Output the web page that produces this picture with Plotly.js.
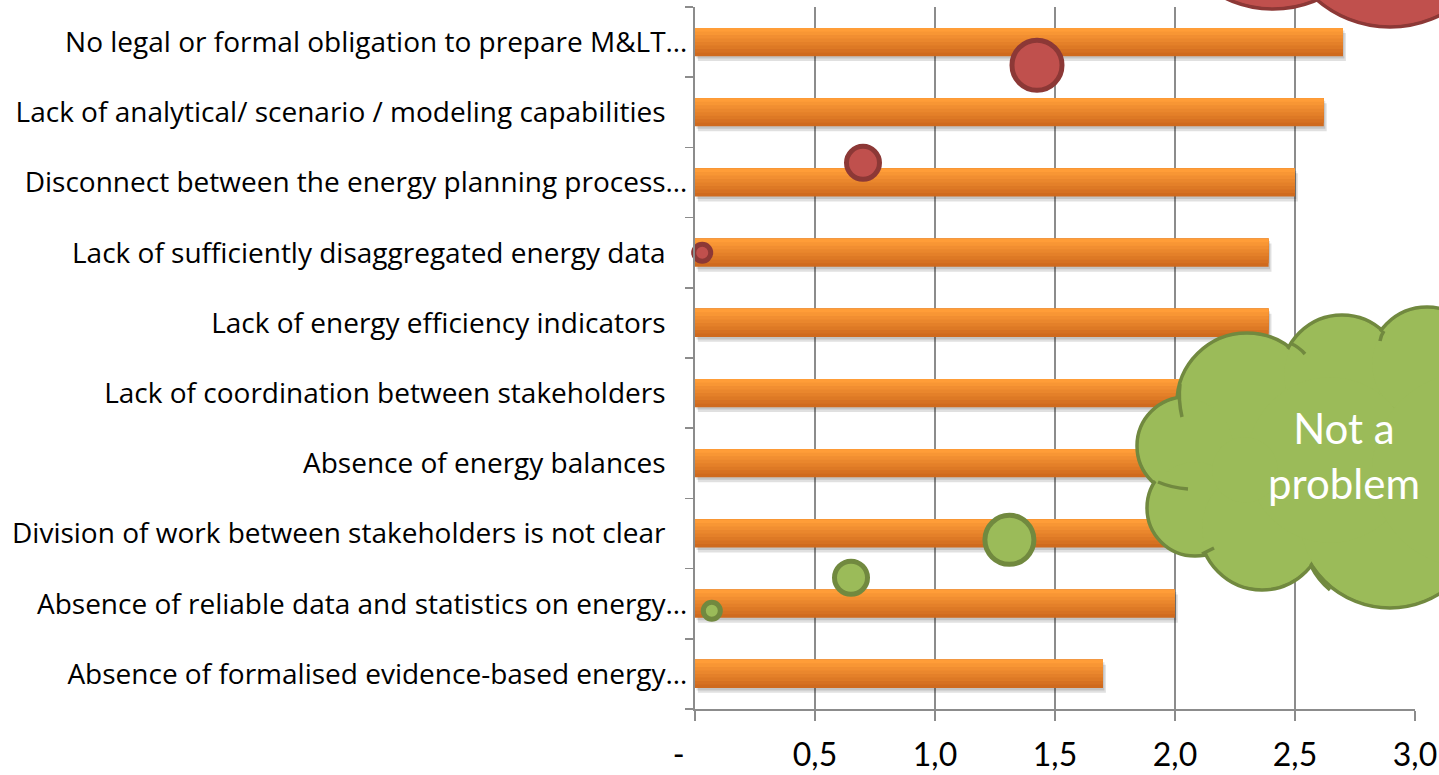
<!DOCTYPE html>
<html>
<head>
<meta charset="utf-8">
<script src="https://cdn.plot.ly/plotly-3.0.1.min.js"></script>
<style>
  html, body { margin: 0; padding: 0; background: #ffffff; }
  #chart { width: 1439px; height: 775px; }
</style>
</head>
<body>
<div id="chart"></div>
<script>
// ---------- data ----------
const categories = [
  "No legal or formal obligation to prepare M&LT…",
  "Lack of analytical/ scenario / modeling capabilities",
  "Disconnect between the energy planning process…",
  "Lack of sufficiently disaggregated energy data",
  "Lack of energy efficiency indicators",
  "Lack of coordination between stakeholders",
  "Absence of energy balances",
  "Division of work between stakeholders is not clear",
  "Absence of reliable data and statistics on energy…",
  "Absence of formalised evidence-based energy…"
];
const scores = [2.70, 2.62, 2.50, 2.39, 2.39, 2.30, 2.21, 2.10, 2.00, 1.70];

const xTickValues = [0, 0.5, 1.0, 1.5, 2.0, 2.5, 3.0];
const xTickLabels = ["-\u00a0\u00a0\u00a0\u00a0", "0,5", "1,0", "1,5", "2,0", "2,5", "3,0"];

// decorative bubbles (x on value axis, y in category-index units, 0 = top row)
const redBubbleX = [1.425, 0.70, 0.03];
const redBubbleY = [0.33, 1.72, 3.00];
const redBubbleSize = [50, 33, 17];
const greenBubbleX = [1.31, 0.65, 0.07];
const greenBubbleY = [7.09, 7.63, 8.10];
const greenBubbleSize = [49, 33, 17];

const cloudText = "Not a<br>problem";

// ---------- layout geometry ----------
const PL = 695, PR = 1415, PT = 7, PB = 709;
const W = 1439, H = 775;
const px2x = p => (p - PL) / (PR - PL);
const py2y = p => (PB - p) / (PB - PT);

// ---------- bar traces (layered to imitate a vertical gradient) ----------
const barW = 0.4;
const topCol = [255, 157, 56];
const botCol = [207, 106, 30];
const N = 8;
const traces = [];

// soft shadow
traces.push({
  type: 'bar', orientation: 'h', y: categories, x: scores, base: 0.012,
  width: barW, offset: -barW / 2 + 0.07,
  marker: { color: 'rgba(0,0,0,0.12)', line: { width: 0 } },
  hoverinfo: 'skip', showlegend: false
});
traces.push({
  type: 'bar', orientation: 'h', y: categories, x: scores, base: 0.006,
  width: barW, offset: -barW / 2 + 0.035,
  marker: { color: 'rgba(0,0,0,0.12)', line: { width: 0 } },
  hoverinfo: 'skip', showlegend: false
});
for (let k = 0; k < N; k++) {
  const t = k / (N - 1);
  const c = botCol.map((b, i) => Math.round(b + (topCol[i] - b) * t));
  traces.push({
    type: 'bar', orientation: 'h', y: categories, x: scores,
    width: barW * (1 - k / N), offset: -barW / 2,
    marker: { color: 'rgb(' + c.join(',') + ')', line: { width: 0 } },
    hoverinfo: 'skip', showlegend: false
  });
}

// bubbles
traces.push({
  type: 'scatter', mode: 'markers', x: redBubbleX, y: redBubbleY, yaxis: 'y2',
  marker: { size: redBubbleSize, color: '#C0504D', opacity: 1, line: { color: '#8C3836', width: 5 } },
  cliponaxis: false, hoverinfo: 'skip', showlegend: false
});
traces.push({
  type: 'scatter', mode: 'markers', x: greenBubbleX, y: greenBubbleY, yaxis: 'y2',
  marker: { size: greenBubbleSize, color: '#9BBB59', opacity: 1, line: { color: '#71893F', width: 5 } },
  cliponaxis: false, hoverinfo: 'skip', showlegend: false
});

// ---------- decorative clouds (shapes) ----------
function circleShape(cx, cy, r, fill, lineCol, lw) {
  return {
    type: 'circle', xref: 'paper', yref: 'paper', layer: 'above',
    x0: px2x(cx - r), x1: px2x(cx + r), y0: py2y(cy + r), y1: py2y(cy - r),
    fillcolor: fill, line: { color: lineCol, width: lw }
  };
}
function cloud(circles, fill, lineCol) {
  const out = [];
  circles.forEach(c => out.push(circleShape(c[0], c[1], c[2], fill, lineCol, 3.5)));
  circles.forEach(c => out.push(circleShape(c[0], c[1], c[2] - 2.2, fill, fill, 0)));
  return out;
}
function arcPath(p0, pc, p1, col) {
  return {
    type: 'path', xref: 'paper', yref: 'paper', layer: 'above',
    path: 'M' + px2x(p0[0]) + ',' + py2y(p0[1]) +
          ' Q' + px2x(pc[0]) + ',' + py2y(pc[1]) + ' ' + px2x(p1[0]) + ',' + py2y(p1[1]),
    line: { color: col, width: 3.5 }
  };
}
const greenCircles = [
  [1247, 403, 70], [1342, 375, 60], [1427, 364, 57],
  [1186, 446, 49], [1195, 508, 48], [1262, 528, 62],
  [1390, 515, 93], [1330, 460, 85], [1470, 470, 100],
  [1245, 470, 35]
];
const redCircles = [[1273, -101, 110], [1390, -85, 112]];
const shapes = []
  .concat(cloud(redCircles, '#C0504D', '#8C3836'))
  .concat(cloud(greenCircles, '#9BBB59', '#71893F'));
shapes.push(arcPath([1180, 384], [1178, 400], [1182, 417], '#71893F'));
shapes.push(arcPath([1290, 343], [1299, 347], [1305, 354], '#71893F'));
shapes.push(arcPath([1158, 482], [1172, 488], [1188, 489], '#71893F'));
shapes.push(arcPath([1202, 554], [1208, 551], [1214, 548], '#71893F'));
shapes.push(arcPath([1311, 566], [1318, 580], [1330, 590], '#71893F'));
shapes.push(arcPath([1384, 331], [1381, 335], [1380, 341], '#71893F'));

const layout = {
  width: W, height: H,
  margin: { l: PL, r: W - PR, t: PT, b: H - PB, pad: 0 },
  paper_bgcolor: '#ffffff', plot_bgcolor: '#ffffff',
  barmode: 'overlay',
  showlegend: false,
  font: { family: '"Open Sans", Lato, sans-serif', color: '#000000' },
  xaxis: {
    range: [0, 3], tickmode: 'array', tickvals: xTickValues, ticktext: xTickLabels,
    showgrid: true, gridcolor: '#8c8c8c', gridwidth: 1.5,
    zeroline: false, showline: true, linecolor: '#8c8c8c', linewidth: 2,
    ticks: 'outside', ticklen: 10, tickcolor: '#8c8c8c', tickwidth: 1.5,
    ticklabelstandoff: 7,
    tickfont: { family: 'Lato, sans-serif', size: 32, color: '#000000' },
    fixedrange: true
  },
  yaxis: {
    type: 'category', autorange: 'reversed',
    categoryorder: 'array', categoryarray: categories,
    tickmode: 'array', tickvals: categories,
    ticktext: categories.map(c => c.endsWith('…') ? c : c + '\u00a0\u00a0\u00a0'),
    tickson: 'boundaries',
    showgrid: false, zeroline: false,
    showline: true, linecolor: '#8c8c8c', linewidth: 2,
    ticks: 'outside', ticklen: 8, tickcolor: '#8c8c8c', tickwidth: 1.5,
    tickfont: { family: '"Open Sans", sans-serif', size: 28, color: '#000000' },
    fixedrange: true
  },
  yaxis2: {
    overlaying: 'y', range: [9.5, -0.5], visible: false, fixedrange: true
  },
  shapes: shapes,
  annotations: [{
    xref: 'paper', yref: 'paper', x: px2x(1344), y: py2y(455),
    xanchor: 'center', yanchor: 'middle',
    text: cloudText, showarrow: false, align: 'center',
    font: { family: 'Lato, sans-serif', size: 42, color: '#ffffff' }
  }]
};

Plotly.newPlot('chart', traces, layout, { displayModeBar: false, staticPlot: true });
</script>
</body>
</html>
